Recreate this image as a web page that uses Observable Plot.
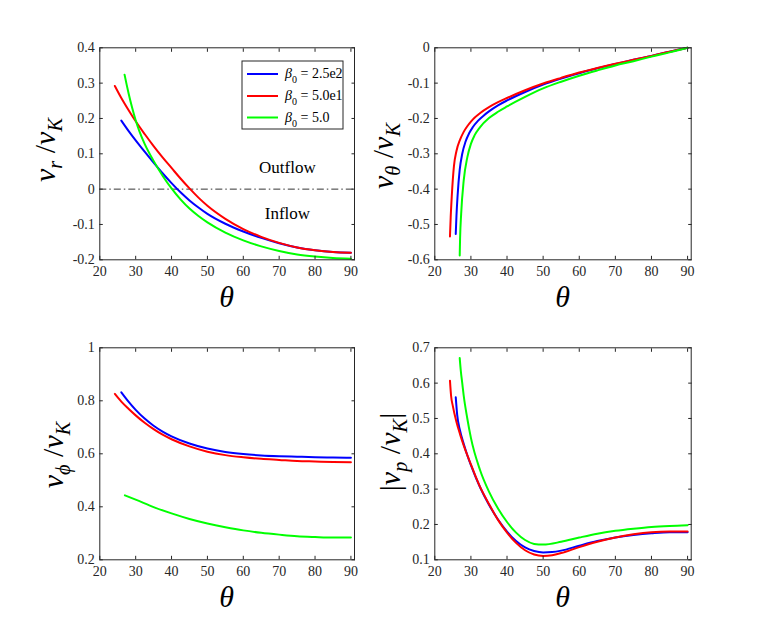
<!DOCTYPE html>
<html><head><meta charset="utf-8">
<script src="https://cdn.jsdelivr.net/npm/d3@7"></script>
<script src="https://cdn.jsdelivr.net/npm/@observablehq/plot@0.6"></script>
<style>
body{margin:0;background:#fff;}
#chart{position:relative;width:763px;height:632px;background:#fff;}
#chart svg{position:absolute;}
#chart svg, #chart svg text, #chart svg tspan{font-family:'Liberation Serif','Times New Roman',serif !important;font-variant:normal !important;}
</style></head><body><div id="chart"></div>
<script>
// ---------- data ----------
const betaLabels = ["2.5e2", "5.0e1", "5.0"];
const lineColors = ["#0000ff", "#ff0000", "#00ff00"];
const xTicks = [20, 30, 40, 50, 60, 70, 80, 90];

// panel a: v_r / v_K
const vrTicks = [-0.2, -0.1, 0, 0.1, 0.2, 0.3, 0.4];
const vrThetaBlue = [26, 28, 30, 32.5, 35, 37.5, 40, 42.5, 45, 47.5, 50, 55, 60, 65, 70, 75, 80, 85, 90];
const vrBlue = [0.194, 0.165, 0.138, 0.106, 0.075, 0.045, 0.017, -0.009, -0.032, -0.052, -0.07, -0.098, -0.12, -0.138, -0.153, -0.165, -0.173, -0.178, -0.18];
const vrThetaRed = [24.2, 26, 28, 30, 32.5, 35, 37.5, 40, 42.5, 45, 47.5, 50, 55, 60, 65, 70, 75, 80, 85, 90];
const vrRed = [0.292, 0.258, 0.224, 0.192, 0.156, 0.122, 0.09, 0.06, 0.03, 0.002, -0.024, -0.047, -0.084, -0.113, -0.135, -0.152, -0.165, -0.173, -0.178, -0.18];
const vrThetaGreen = [26.9, 27.5, 28, 29, 30, 31, 32.5, 35, 37.5, 40, 42.5, 45, 47.5, 50, 55, 60, 65, 70, 75, 80, 85, 90];
const vrGreen = [0.324, 0.295, 0.272, 0.231, 0.195, 0.165, 0.128, 0.08, 0.038, 0.002, -0.029, -0.055, -0.076, -0.094, -0.123, -0.145, -0.162, -0.175, -0.185, -0.191, -0.195, -0.197];
const flowNotes = [{theta: 72.3, v: 0.062, note: "Outflow"}, {theta: 72.3, v: -0.07, note: "Inflow"}];

// panel b: v_theta / v_K
const vtTicks = [-0.6, -0.5, -0.4, -0.3, -0.2, -0.1, 0];
const vtThetaBlue = [25.8, 26, 26.3, 26.9, 27.6, 28.5, 29.5, 30.5, 32, 33.5, 35, 37.5, 40, 45, 50, 55, 60, 65, 70, 75, 80, 85, 90];
const vtBlue = [-0.527, -0.475, -0.42, -0.345, -0.3, -0.266, -0.242, -0.225, -0.206, -0.192, -0.18, -0.163, -0.149, -0.125, -0.104, -0.087, -0.072, -0.058, -0.046, -0.034, -0.023, -0.011, 0];
const vtThetaRed = [24.2, 24.4, 24.7, 25.3, 26, 27, 28, 29, 30, 31, 32.5, 35, 37.5, 40, 45, 50, 55, 60, 65, 70, 75, 80, 85, 90];
const vtRed = [-0.534, -0.48, -0.42, -0.335, -0.292, -0.26, -0.238, -0.222, -0.209, -0.198, -0.185, -0.168, -0.154, -0.142, -0.12, -0.101, -0.085, -0.07, -0.057, -0.045, -0.034, -0.023, -0.011, 0];
const vtThetaGreen = [26.9, 27.0, 27.3, 28, 29, 30, 31, 32.5, 35, 37.5, 40, 45, 50, 55, 60, 65, 70, 75, 80, 85, 90];
const vtGreen = [-0.588, -0.54, -0.47, -0.376, -0.31, -0.272, -0.248, -0.225, -0.199, -0.181, -0.166, -0.139, -0.115, -0.096, -0.079, -0.064, -0.05, -0.038, -0.025, -0.013, 0];

// panel c: v_phi / v_K
const vpTicks = [0.2, 0.4, 0.6, 0.8, 1];
const vpThetaBlue = [26, 28, 30, 32.5, 35, 37.5, 40, 45, 50, 55, 60, 65, 70, 75, 80, 85, 90];
const vpBlue = [0.832, 0.797, 0.766, 0.733, 0.706, 0.684, 0.666, 0.639, 0.62, 0.607, 0.599, 0.594, 0.591, 0.589, 0.587, 0.586, 0.585];
const vpThetaRed = [24.2, 26, 28, 30, 32.5, 35, 37.5, 40, 45, 50, 55, 60, 65, 70, 75, 80, 85, 90];
const vpRed = [0.826, 0.797, 0.77, 0.745, 0.717, 0.693, 0.672, 0.655, 0.628, 0.608, 0.595, 0.587, 0.581, 0.577, 0.573, 0.571, 0.569, 0.568];
const vpThetaGreen = [27, 30, 35, 40, 45, 50, 55, 60, 65, 70, 75, 80, 85, 90];
const vpGreen = [0.443, 0.427, 0.399, 0.375, 0.354, 0.337, 0.323, 0.311, 0.302, 0.295, 0.289, 0.286, 0.284, 0.284];

// panel d: |v_p / v_K|
const vmTicks = [0.1, 0.2, 0.3, 0.4, 0.5, 0.6, 0.7];
const vmThetaBlue = [25.8, 26.2, 27, 28, 29, 30, 32.5, 35, 37.5, 40, 42.5, 45, 47.5, 50, 52.5, 55, 60, 65, 70, 75, 80, 85, 90];
const vmBlue = [0.56, 0.51, 0.465, 0.428, 0.396, 0.368, 0.306, 0.256, 0.214, 0.18, 0.153, 0.135, 0.125, 0.121, 0.122, 0.126, 0.14, 0.153, 0.163, 0.17, 0.175, 0.178, 0.178];
const vmThetaRed = [24.2, 24.5, 25, 26, 27, 28, 29, 30, 32.5, 35, 37.5, 40, 42.5, 45, 47.5, 50, 52.5, 55, 60, 65, 70, 75, 80, 85, 90];
const vmRed = [0.607, 0.565, 0.535, 0.49, 0.455, 0.424, 0.396, 0.37, 0.307, 0.258, 0.213, 0.177, 0.148, 0.127, 0.115, 0.111, 0.113, 0.119, 0.136, 0.151, 0.163, 0.172, 0.178, 0.18, 0.18];
const vmThetaGreen = [26.9, 27.2, 27.6, 28, 29, 30, 32.5, 35, 37.5, 40, 42.5, 45, 47.5, 50, 55, 60, 65, 70, 75, 80, 85, 90];
const vmGreen = [0.671, 0.635, 0.6, 0.565, 0.5, 0.445, 0.355, 0.293, 0.245, 0.207, 0.177, 0.156, 0.145, 0.143, 0.151, 0.163, 0.174, 0.182, 0.188, 0.193, 0.196, 0.198];

// ---------- helpers ----------
const FONT = "'Liberation Serif', 'Times New Roman', serif";
const INK = "#262626";
const fmt = d => String(+d.toFixed(2));
function rows(thetas, vals, s) { return thetas.map((t, i) => ({theta: t, v: vals[i], s})); }

const chart = document.getElementById("chart");

function addText(svg, x, y, rotate, size, parts) {
  const t = d3.select(svg).append("text")
    .attr("transform", `translate(${x},${y})` + (rotate ? " rotate(-90)" : ""))
    .attr("text-anchor", "middle").attr("font-family", FONT)
    .attr("font-size", size).attr("fill", "#000");
  let shift = 0;
  for (const p of parts) {
    const target = p.sub ? size * 0.22 : 0;
    const ts = t.append("tspan").text(p.t)
      .attr("font-style", p.i ? "italic" : "normal")
      .attr("font-size", p.sub ? size * 0.68 : size);
    if (target !== shift) { ts.attr("dy", target - shift); shift = target; }
  }
  return t;
}

function panel(p) {
  const W = 380, H = 316;
  const data = [
    ...rows(p.tb, p.vb, betaLabels[0]),
    ...rows(p.tr, p.vr, betaLabels[1]),
    ...rows(p.tg, p.vg, betaLabels[2])
  ];
  const tickOpts = {tickFormat: () => "", label: null, color: INK, strokeWidth: 1};
  const textOpts = {label: null, color: INK, fontSize: 14, fontFamily: FONT, fontVariant: "normal"};
  const svg = Plot.plot({
    width: W, height: H,
    marginLeft: p.fx0 - p.left, marginRight: p.left + W - p.fx1,
    marginTop: p.fy0 - p.top, marginBottom: p.top + H - p.fy1,
    style: {fontFamily: FONT, fontSize: "14px", background: "transparent", overflow: "visible"},
    x: {domain: [20, 91]},
    y: {domain: p.yDomain},
    color: {domain: betaLabels, range: lineColors},
    marks: [
      ...(p.before || []),
      Plot.line(data, {x: "theta", y: "v", z: "s", stroke: "s", strokeWidth: 2, curve: "monotone-x"}),
      Plot.frame({stroke: INK, strokeWidth: 1}),
      Plot.axisX(xTicks, {anchor: "bottom", tickSize: 0, tickPadding: 6, tickFormat: d => String(d), ...textOpts}),
      Plot.axisX(xTicks, {anchor: "bottom", tickSize: -3.5, ...tickOpts}),
      Plot.axisX(xTicks, {anchor: "top", tickSize: -3.5, ...tickOpts}),
      Plot.axisY(p.yTicks, {anchor: "left", tickSize: 0, tickPadding: 5, tickFormat: fmt, ...textOpts}),
      Plot.axisY(p.yTicks, {anchor: "left", tickSize: -3.5, ...tickOpts}),
      Plot.axisY(p.yTicks, {anchor: "right", tickSize: -3.5, ...tickOpts}),
      ...(p.after || [])
    ]
  });
  svg.style.left = p.left + "px";
  svg.style.top = p.top + "px";
  chart.appendChild(svg);
  addText(svg, (p.fx0 + p.fx1) / 2 - p.left, p.fy1 + 48 - p.top, false, 30, [{t: "θ", i: true}]);
  addText(svg, p.labX - p.left, p.labY - p.top, true, 30, p.ylab);
  return svg;
}

// ---------- panels ----------
const svgA = panel({
  left: 0, top: 0, fx0: 99.3, fx1: 354, fy0: 47.3, fy1: 259.3,
  yDomain: [-0.2, 0.4], yTicks: vrTicks,
  tb: vrThetaBlue, vb: vrBlue, tr: vrThetaRed, vr: vrRed, tg: vrThetaGreen, vg: vrGreen,
  before: [Plot.ruleY([0], {stroke: "#333", strokeWidth: 1, strokeDasharray: "7,3,1.5,3"})],
  after: [Plot.text(flowNotes, {x: "theta", y: "v", text: "note", fontSize: 17, fill: "#000", fontFamily: FONT})],
  labX: 55, labY: 150,
  ylab: [{t: "v", i: true}, {t: "r", i: true, sub: true}, {t: " /", i: false}, {t: "v", i: true}, {t: "K", i: true, sub: true}]
});
panel({
  left: 380, top: 0, fx0: 434.3, fx1: 690.7, fy0: 47.3, fy1: 259.3,
  yDomain: [-0.6, 0], yTicks: vtTicks,
  tb: vtThetaBlue, vb: vtBlue, tr: vtThetaRed, vr: vtRed, tg: vtThetaGreen, vg: vtGreen,
  labX: 393, labY: 156,
  ylab: [{t: "v", i: true}, {t: "θ", i: true, sub: true}, {t: " /", i: false}, {t: "v", i: true}, {t: "K", i: true, sub: true}]
});
panel({
  left: 0, top: 300, fx0: 99.3, fx1: 354, fy0: 347.3, fy1: 559.3,
  yDomain: [0.2, 1], yTicks: vpTicks,
  tb: vpThetaBlue, vb: vpBlue, tr: vpThetaRed, vr: vpRed, tg: vpThetaGreen, vg: vpGreen,
  labX: 63, labY: 455,
  ylab: [{t: "v", i: true}, {t: "ϕ", i: true, sub: true}, {t: " /", i: false}, {t: "v", i: true}, {t: "K", i: true, sub: true}]
});
panel({
  left: 380, top: 300, fx0: 434.3, fx1: 690.7, fy0: 347.3, fy1: 559.3,
  yDomain: [0.1, 0.7], yTicks: vmTicks,
  tb: vmThetaBlue, vb: vmBlue, tr: vmThetaRed, vr: vmRed, tg: vmThetaGreen, vg: vmGreen,
  labX: 400, labY: 452,
  ylab: [{t: "|", i: false}, {t: "v", i: true}, {t: "p", i: true, sub: true}, {t: " /", i: false}, {t: "v", i: true}, {t: "K", i: true, sub: true}, {t: "|", i: false}]
});

// ---------- legend (panel a) ----------
(function legend() {
  const g = d3.select(svgA).append("g");
  g.append("rect").attr("x", 242).attr("y", 61).attr("width", 101).attr("height", 68)
    .attr("fill", "#fff").attr("stroke", INK).attr("stroke-width", 1);
  const ys = [74, 96, 117.5];
  betaLabels.forEach((b, i) => {
    g.append("line").attr("x1", 247).attr("x2", 278).attr("y1", ys[i]).attr("y2", ys[i])
      .attr("stroke", lineColors[i]).attr("stroke-width", 2);
    const t = g.append("text").attr("x", 285).attr("y", ys[i] + 4).attr("font-family", FONT)
      .attr("text-anchor", "start").attr("font-size", 14).attr("fill", "#000");
    t.append("tspan").text("β").attr("font-style", "italic");
    t.append("tspan").text("0").attr("font-size", 10).attr("dy", 5);
    t.append("tspan").text(" = " + b).attr("dy", -5);
  });
})();
</script></body></html>
